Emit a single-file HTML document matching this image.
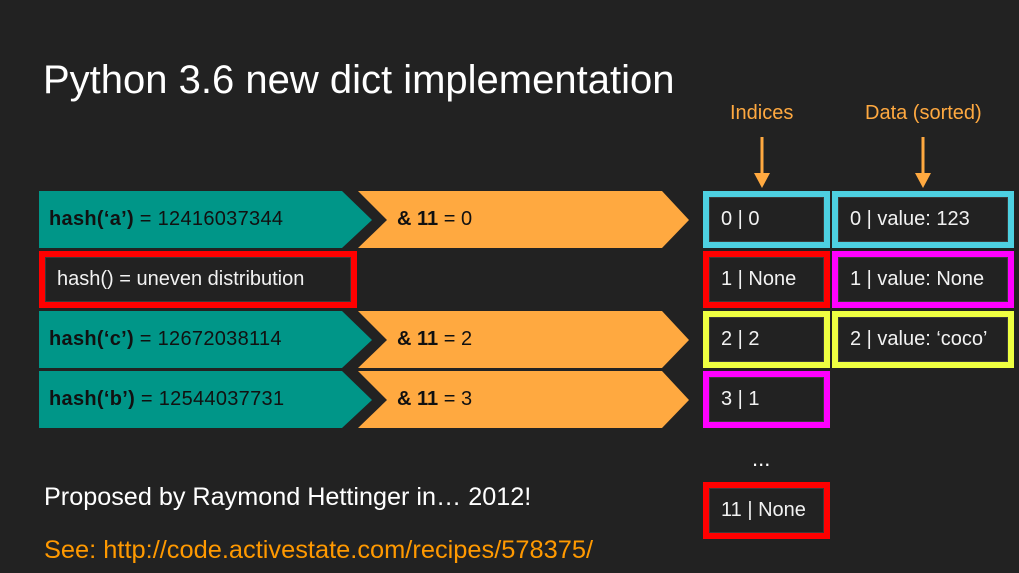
<!DOCTYPE html>
<html><head><meta charset="utf-8"><style>
body{margin:0;width:1019px;height:573px;background:#222222;overflow:hidden;position:relative;font-family:"Liberation Sans",sans-serif}
.t{position:absolute;white-space:nowrap}
.box{position:absolute;box-sizing:border-box;border:6px solid;background:#222;box-shadow:inset 0 0 0 1px #3a3a3a;color:#f2f2f2;font-size:20px;line-height:45px;padding-left:12px}
.lbl{color:#111;font-size:20px;position:absolute;white-space:nowrap}
</style></head><body>
<div class="t" style="left:43px;top:58px;font-size:40px;color:#fff">Python 3.6 new dict implementation</div>
<svg width="1019" height="573" style="position:absolute;left:0;top:0">
 <g fill="#009688">
  <polygon points="39,191 342,191 372,220 342,248 39,248"/>
  <polygon points="39,311 342,311 372,340 342,368 39,368"/>
  <polygon points="39,371 342,371 372,400 342,428 39,428"/>
 </g>
 <g fill="#ffa940">
  <polygon points="358,191 662,191 689,220 662,248 358,248 387,220"/>
  <polygon points="358,311 662,311 689,340 662,368 358,368 387,340"/>
  <polygon points="358,371 662,371 689,400 662,428 358,428 387,400"/>
 </g>
 <g stroke="#ffa940" stroke-width="3" fill="#ffa940">
  <line x1="762" y1="137" x2="762" y2="175"/><polygon points="754,173 770,173 762,188" stroke="none"/>
  <line x1="923" y1="137" x2="923" y2="175"/><polygon points="915,173 931,173 923,188" stroke="none"/>
 </g>
</svg>
<div class="lbl" style="left:49px;top:208px;letter-spacing:0.3px"><b>hash(‘a’)</b> = 12416037344</div>
<div class="lbl" style="left:49px;top:328px;letter-spacing:0.3px"><b>hash(‘c’)</b> = 12672038114</div>
<div class="lbl" style="left:49px;top:388px;letter-spacing:0.3px"><b>hash(‘b’)</b> = 12544037731</div>
<div class="lbl" style="left:397px;top:208px"><b>&amp; 11</b> = 0</div>
<div class="lbl" style="left:397px;top:328px"><b>&amp; 11</b> = 2</div>
<div class="lbl" style="left:397px;top:388px"><b>&amp; 11</b> = 3</div>
<div class="box" style="left:39px;top:251px;width:318px;height:57px;border-color:#ff0000">hash() = uneven distribution</div>
<div class="t" style="left:730px;top:102px;font-size:20px;color:#ffa940">Indices</div>
<div class="t" style="left:865px;top:102px;font-size:20px;color:#ffa940">Data (sorted)</div>
<div class="box" style="left:703px;top:191px;width:127px;height:57px;border-color:#4dd0e1">0 | 0</div>
<div class="box" style="left:703px;top:251px;width:127px;height:57px;border-color:#ff0000">1 | None</div>
<div class="box" style="left:703px;top:311px;width:127px;height:57px;border-color:#eeff41">2 | 2</div>
<div class="box" style="left:703px;top:371px;width:127px;height:57px;border-color:#ff00ff">3 | 1</div>
<div class="t" style="left:752px;top:446px;font-size:22px;color:#fff">...</div>
<div class="box" style="left:703px;top:482px;width:127px;height:57px;border-color:#ff0000">11 | None</div>
<div class="box" style="left:832px;top:191px;width:182px;height:57px;border-color:#4dd0e1">0 | value: 123</div>
<div class="box" style="left:832px;top:251px;width:182px;height:57px;border-color:#ff00ff">1 | value: None</div>
<div class="box" style="left:832px;top:311px;width:182px;height:57px;border-color:#eeff41">2 | value: ‘coco’</div>
<div class="t" style="left:44px;top:483px;font-size:25.2px;color:#fff">Proposed by Raymond Hettinger in… 2012!</div>
<div class="t" style="left:44px;top:536px;font-size:25.4px;color:#ff9900">See: http://code.activestate.com/recipes/578375/</div>
</body></html>
